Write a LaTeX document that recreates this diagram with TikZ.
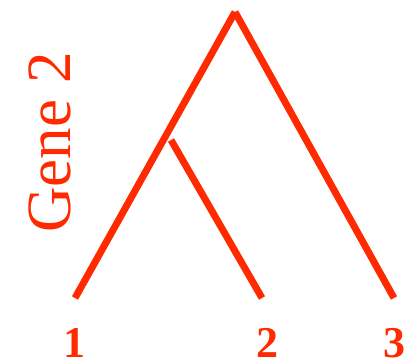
\documentclass[tikz,border=0pt]{standalone}
\usepackage{fontspec}
\setmainfont{Liberation Serif}
\definecolor{treered}{RGB}{255,42,0}
\begin{document}
\begin{tikzpicture}[x=1pt,y=-1pt,
  branch/.style={draw=treered,line width=7pt,line cap=butt},
  leaflabel/.style={text=treered,font=\fontsize{44}{44}\selectfont\bfseries,anchor=base,inner sep=0pt},
  genelabel/.style={text=treered,font=\fontsize{63}{63}\selectfont,rotate=90,anchor=base,inner sep=0pt}]
\useasboundingbox (0,0) rectangle (406,361);
\coordinate (root) at (235,12);
\coordinate (inner) at (171,140);
\coordinate (l1) at (75,298);
\coordinate (l2) at (262,298);
\coordinate (l3) at (394,298);
\draw[branch] (root) -- (l1);
\draw[branch] (root) -- (l3);
\draw[branch] (inner) -- (l2);
\node[leaflabel] (t1) at (74,357) {1};
\node[leaflabel] (t2) at (267,357) {2};
\node[leaflabel] (t3) at (394,357) {3};
\node[genelabel] (gene) at (70,142.5) {Gene 2};
\end{tikzpicture}
\end{document}
